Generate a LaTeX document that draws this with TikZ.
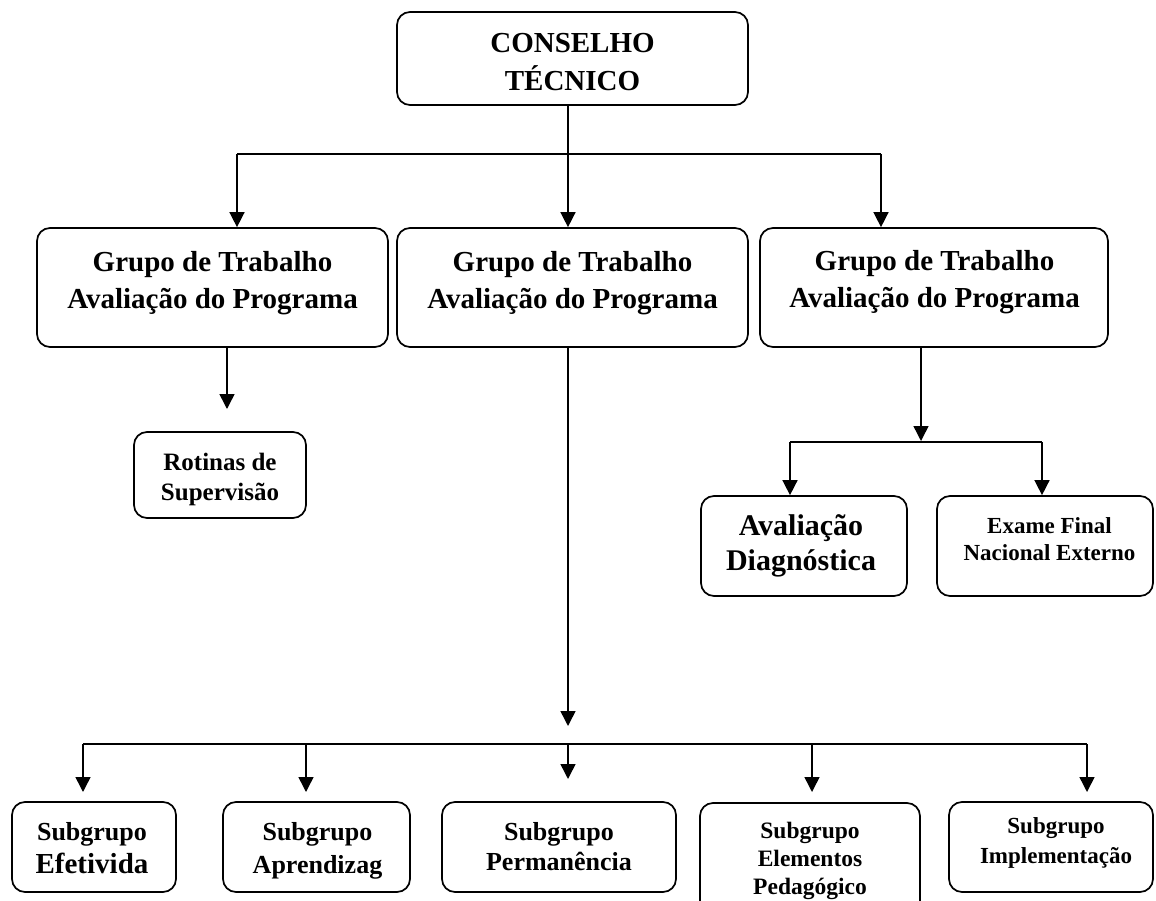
\documentclass[tikz,border=0pt]{standalone}
\usepackage{fontspec}
\setmainfont{Liberation Serif}
\usetikzlibrary{arrows.meta}
\newcommand\mlines[1]{\begin{tabular}[t]{@{}c@{}}#1\end{tabular}}
\begin{document}
\begin{tikzpicture}[x=1pt,y=-1pt,
  bx/.style={draw,line width=1.7pt,rounded corners=13pt,inner sep=0pt},
  txt/.style={anchor=base,inner sep=0pt},
  ln/.style={line width=1.5pt},
  arr/.style={line width=1.5pt,-{Triangle[width=15pt,length=15pt]}}]
\useasboundingbox (0,0) rectangle (1156,901);
\clip (0,0) rectangle (1156,901);
% top
\node[bx,minimum width=351pt,minimum height=93pt] (ct) at (572.5,58.5) {};
\node[txt,font=\bfseries\fontsize{29}{38}\selectfont] (ctt) at (572.5,53) {\mlines{CONSELHO\\TÉCNICO}};
% groups
\node[bx,minimum width=351pt,minimum height=119pt] (g1) at (212.5,287.5) {};
\node[bx,minimum width=351pt,minimum height=119pt] (g2) at (572.5,287.5) {};
\node[bx,minimum width=348pt,minimum height=119pt] (g3) at (934,287.5) {};
\node[txt,font=\bfseries\fontsize{29}{36}\selectfont] (g1t) at (212.5,272) {\mlines{Grupo de Trabalho\\Avaliação do Programa}};
\node[txt,font=\bfseries\fontsize{29}{36}\selectfont] (g2t) at (572.5,272) {\mlines{Grupo de Trabalho\\Avaliação do Programa}};
\node[txt,font=\bfseries\fontsize{29}{36}\selectfont] (g3t) at (934.5,271) {\mlines{Grupo de Trabalho\\Avaliação do Programa}};
% rotinas
\node[bx,minimum width=172pt,minimum height=86pt] (rot) at (220,475) {};
\node[txt,font=\bfseries\fontsize{25}{30}\selectfont] (rott) at (220,470) {\mlines{Rotinas de\\Supervisão}};
% avaliacao / exame
\node[bx,minimum width=206pt,minimum height=100pt] (ad) at (804,546) {};
\node[txt,font=\bfseries\fontsize{30}{35}\selectfont] (adt) at (801,535) {\mlines{Avaliação\\Diagnóstica}};
\node[bx,minimum width=216pt,minimum height=100pt] (ef) at (1045,546) {};
\node[txt,font=\bfseries\fontsize{23}{27}\selectfont] (eft) at (1049.5,533) {\mlines{Exame Final\\Nacional Externo}};
% subgroups
\node[bx,minimum width=164pt,minimum height=90pt] (s1) at (94,847) {};
\node[txt,font=\bfseries\fontsize{26}{33}\selectfont] (s1t) at (92,840) {\mlines{Subgrupo\\{\fontsize{29}{33}\selectfont Efetivida}}};
\node[bx,minimum width=187pt,minimum height=90pt] (s2) at (316.5,847) {};
\node[txt,font=\bfseries\fontsize{26}{33}\selectfont] (s2t) at (317.5,840) {\mlines{Subgrupo\\Aprendizag}};
\node[bx,minimum width=234pt,minimum height=90pt] (s3) at (559,847) {};
\node[txt,font=\bfseries\fontsize{26}{30}\selectfont] (s3t) at (559,840) {\mlines{Subgrupo\\Permanência}};
\node[bx,minimum width=220pt,minimum height=112pt] (s4) at (810,859) {};
\node[txt,font=\bfseries\fontsize{23.5}{28}\selectfont] (s4t) at (810,838) {\mlines{Subgrupo\\Elementos\\Pedagógico}};
\node[bx,minimum width=204pt,minimum height=90pt] (s5) at (1051,847) {};
\node[txt,font=\bfseries\fontsize{23}{30}\selectfont] (s5t) at (1056,833) {\mlines{Subgrupo\\Implementação}};
% connectors top
\draw[arr] ([xshift=-4.5pt]ct.south) -- ([xshift=-4.5pt]g2.north);
\coordinate (jl) at (237,154);
\coordinate (jr) at (881,154);
\draw[ln] (jl) -- (jr);
\draw[arr] (jl) -- (jl |- g1.north);
\draw[arr] (jr) -- (jr |- g3.north);
% left
\coordinate (t1) at (227,409);
\draw[arr] (g1.south -| t1) -- (t1);
% right
\coordinate (t3) at (921,441);
\draw[arr] (g3.south -| t3) -- (t3);
\coordinate (jad) at (790,442);
\coordinate (jef) at (1042,442);
\draw[ln] (jad) -- (jef);
\draw[arr] (jad) -- (jad |- ad.north);
\draw[arr] (jef) -- (jef |- ef.north);
% middle down
\coordinate (t2) at (568,726);
\draw[arr] (g2.south -| t2) -- (t2);
\coordinate (b1) at (83,744);
\coordinate (b5) at (1087,744);
\draw[ln] (b1) -- (b5);
\coordinate (p1) at (83,792);
\coordinate (p2) at (306,792);
\coordinate (p3) at (568,779);
\coordinate (p4) at (812,792);
\coordinate (p5) at (1087,792);
\draw[arr] (p1 |- b1) -- (p1);
\draw[arr] (p2 |- b1) -- (p2);
\draw[arr] (p3 |- b1) -- (p3);
\draw[arr] (p4 |- b1) -- (p4);
\draw[arr] (p5 |- b1) -- (p5);
\end{tikzpicture}
\end{document}
